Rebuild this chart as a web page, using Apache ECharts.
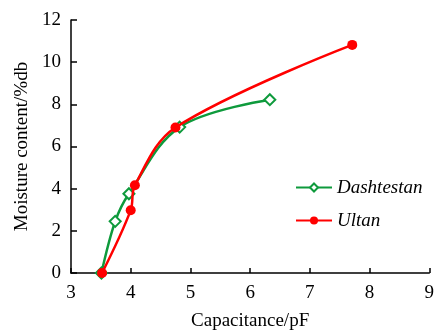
<!DOCTYPE html>
<html lang="en">
<head>
    <meta charset="UTF-8">
    <title>Moisture content vs capacitance</title>
    <script src="https://cdn.jsdelivr.net/npm/echarts@6/dist/echarts.min.js"></script>
    <style>
        html, body { margin: 0; padding: 0; background: #fff; }
        #chart { width: 437px; height: 336px; }
    </style>
</head>
<body>
    <div id="chart"></div>
    <script>
        // data
        const dashtestanX = [3.51, 3.74, 3.97, 4.82, 6.33];
        const dashtestanY = [0, 2.45, 3.76, 6.92, 8.22];
        const ultanX = [3.52, 4.0, 4.07, 4.75, 7.71];
        const ultanY = [0, 2.98, 4.16, 6.9, 10.82];
        const seriesNames = ['Dashtestan', 'Ultan'];

        const zip = (xs, ys) => xs.map((x, i) => [x, ys[i]]);

        const font = 'Liberation Serif';
        const fs = 19;
        const chart = echarts.init(document.getElementById('chart'));

        const option = {
            animation: false,
            grid: { left: 71, right: 3, top: 20, bottom: 61 },
            legend: {
                orient: 'vertical',
                left: 290,
                top: 173,
                itemWidth: 36,
                itemHeight: 10,
                itemGap: 14,
                textStyle: { fontFamily: font, fontSize: fs, fontStyle: 'italic', color: '#000' },
                data: seriesNames
            },
            xAxis: {
                type: 'value',
                min: 3,
                max: 9,
                interval: 1,
                name: 'Capacitance/pF',
                nameLocation: 'middle',
                nameGap: 39,
                nameTextStyle: { fontFamily: font, fontSize: fs, color: '#000' },
                axisLine: { lineStyle: { color: '#000', width: 1.5 } },
                axisTick: { inside: true, length: 5, lineStyle: { color: '#000', width: 1.5 } },
                axisLabel: { fontFamily: font, fontSize: fs, color: '#000', margin: 11 },
                splitLine: { show: false }
            },
            yAxis: {
                type: 'value',
                min: 0,
                max: 12,
                interval: 2,
                name: 'Moisture content/%db',
                nameLocation: 'middle',
                nameGap: 36,
                nameTextStyle: { fontFamily: font, fontSize: fs, color: '#000' },
                axisLine: { show: true, lineStyle: { color: '#000', width: 1.5 } },
                axisTick: { show: true, inside: true, length: 6, lineStyle: { color: '#000', width: 1.5 } },
                axisLabel: { fontFamily: font, fontSize: fs, color: '#000', margin: 10 },
                splitLine: { show: false }
            },
            series: [
                {
                    name: seriesNames[0],
                    type: 'line',
                    smooth: 0.35,
                    symbol: 'diamond',
                    symbolSize: 11,
                    lineStyle: { color: '#0e9a3c', width: 2.5 },
                    itemStyle: { color: '#fff', borderColor: '#0e9a3c', borderWidth: 2 },
                    data: zip(dashtestanX, dashtestanY),
                    z: 2
                },
                {
                    name: seriesNames[1],
                    type: 'line',
                    smooth: 0.35,
                    symbol: 'circle',
                    symbolSize: 10,
                    lineStyle: { color: '#ff0000', width: 2.5 },
                    itemStyle: { color: '#ff0000', borderColor: '#ff0000', borderWidth: 0 },
                    data: zip(ultanX, ultanY),
                    z: 3
                }
            ]
        };

        chart.setOption(option);
    </script>
</body>
</html>
